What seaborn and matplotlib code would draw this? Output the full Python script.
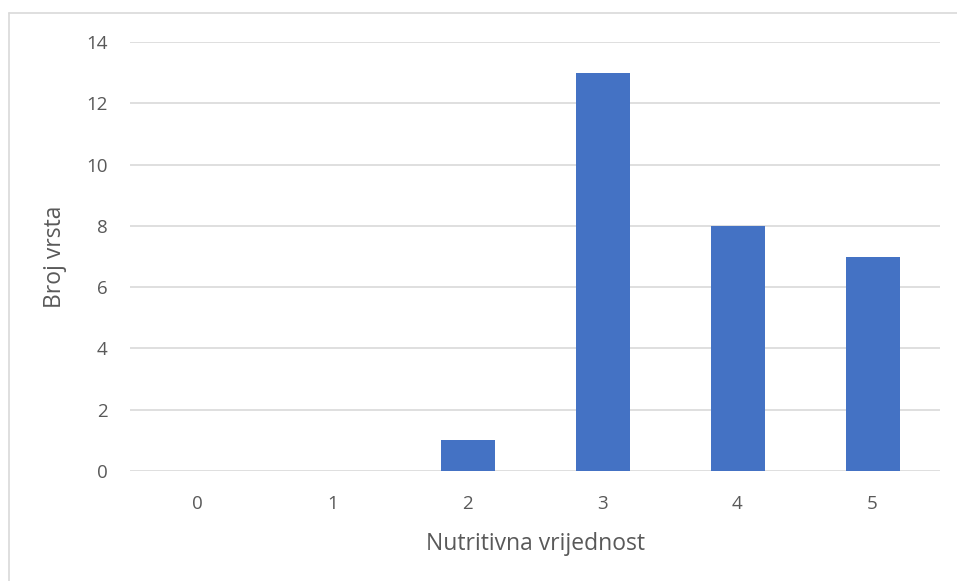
import matplotlib
matplotlib.use('Agg')
import matplotlib.pyplot as plt
import seaborn as sns
import pandas as pd
from matplotlib.lines import Line2D

# data
categories = ['0', '1', '2', '3', '4', '5']
counts = [0, 0, 1, 13, 8, 7]

df = pd.DataFrame({'nutritivna': categories, 'broj': counts})

sns.set_style('white')
plt.rcParams['font.family'] = ['Open Sans', 'DejaVu Sans']

fig = plt.figure(figsize=(9.57, 5.81), dpi=100)
ax = fig.add_axes([130/957, 1-471/581, (940-130)/957, (471-42)/581])

sns.barplot(data=df, x='nutritivna', y='broj', color='#4472C4', width=0.4,
            saturation=1, linewidth=0, ax=ax, zorder=3)

ax.set_ylim(0, 14)
ax.set_yticks(range(0, 15, 2))
ax.set_xlim(-0.5, 5.5)
ax.yaxis.grid(True, color='#D9D9D9', lw=1.2, zorder=0)
ax.set_axisbelow(True)
for s in ax.spines.values():
    s.set_visible(False)
ax.tick_params(axis='both', length=0, labelsize=13.5, colors='#595959')
ax.tick_params(axis='x', pad=17)
ax.tick_params(axis='y', pad=16)
ax.set_xlabel('Nutritivna vrijednost', fontsize=16.5, color='#595959', labelpad=14)
ax.set_ylabel('Broj vrsta', fontsize=16.5, color='#595959', labelpad=14)

# chart frame (left and top edge)
fig.add_artist(Line2D([9/957, 9/957], [0, 1-13/581], transform=fig.transFigure, color='#D9D9D9', lw=1.2))
fig.add_artist(Line2D([9/957, 1], [1-13/581, 1-13/581], transform=fig.transFigure, color='#D9D9D9', lw=1.2))

fig.savefig('out.png', dpi=100)
